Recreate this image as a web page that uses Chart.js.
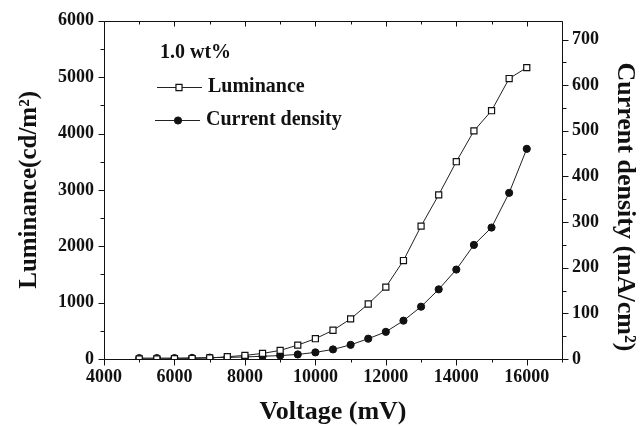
<!DOCTYPE html>
<html>
<head>
<meta charset="utf-8">
<script src="https://cdn.jsdelivr.net/npm/chart.js@4/dist/chart.umd.min.js"></script>
<style>
html,body{margin:0;padding:0;background:#fff;}
#wrap{width:641px;height:426px;}
</style>
</head>
<body>
<div id="wrap"><canvas id="c" width="641" height="426"></canvas></div>
<script>
const voltage = [5000,5500,6000,6500,7000,7500,8000,8500,9000,9500,10000,10500,11000,11500,12000,12500,13000,13500,14000,14500,15000,15500,16000];
const luminance = [2,3,5,8,18,40,64,99,152,247,360,510,711,976,1276,1747,2358,2912,3500,4047,4405,4976,5170];
const currentDensity = [2,2,2,2.5,3,3.5,4.5,6,7.5,10,14.5,21,31,44.5,59.5,84,114.6,152.6,196,250,288,364,460.5];
const xTickValues = [4000,6000,8000,10000,12000,14000,16000];
const yTickValues = [0,1000,2000,3000,4000,5000,6000];
const y2TickValues = [0,100,200,300,400,500,600,700];
const legendTitle = '1.0 wt%';
const seriesNames = ['Luminance','Current density'];
const xTitle = 'Voltage (mV)';
const yTitle = 'Luminance(cd/m\u00B2)';
const y2Title = 'Current density (mA/cm\u00B2)';

const FONT = '"Liberation Serif", "Times New Roman", serif';
const INK = '#111';

const lumPts = voltage.map((v,i)=>({x:v,y:luminance[i]}));
const curPts = voltage.map((v,i)=>({x:v,y:currentDensity[i]}));

const setTicks = vals => (s)=>{ s.ticks = vals.map(v=>({value:v})); };
const plain = v => String(v);

const decor = {
  id:'decor',
  afterDraw(chart){
    const ctx = chart.ctx;
    const a = chart.chartArea;
    const sx = chart.scales.x, sy = chart.scales.y, sy2 = chart.scales.y2;
    ctx.save();
    ctx.strokeStyle = INK;
    ctx.lineWidth = 1;
    const L = Math.round(a.left)+0.5, R = Math.round(a.right)+0.5, T = Math.round(a.top)+0.5, B = Math.round(a.bottom)+0.5;
    ctx.beginPath();
    ctx.rect(L, T, R-L, B-T);
    ctx.stroke();
    ctx.beginPath();
    for(let v=4000; v<=17000; v+=1000){
      const px = Math.round(sx.getPixelForValue(v))+0.5;
      const major = (v % 2000 === 0);
      ctx.moveTo(px, B); ctx.lineTo(px, B + (major?6:3));
      ctx.moveTo(px, T); ctx.lineTo(px, T + (major?5:3));
    }
    for(let v=0; v<=6000; v+=500){
      const py = Math.round(sy.getPixelForValue(v))+0.5;
      const major = (v % 1000 === 0);
      ctx.moveTo(L, py); ctx.lineTo(L - (major?6:4), py);
    }
    for(let v=0; v<=740; v+=50){
      const py = Math.round(sy2.getPixelForValue(v))+0.5;
      const major = (v % 100 === 0);
      ctx.moveTo(R, py); ctx.lineTo(R + (major?6:4), py);
    }
    ctx.stroke();

    // right-axis title, drawn centred a little below the plot middle as in the reference
    ctx.save();
    ctx.fillStyle = INK;
    ctx.font = 'bold 26px ' + FONT;
    ctx.textAlign = 'center';
    ctx.textBaseline = 'middle';
    ctx.translate(625, (a.top + a.bottom)/2 + 17);
    ctx.rotate(Math.PI/2);
    ctx.fillText(y2Title, 0, 0);
    ctx.restore();

    const ds = chart.data.datasets;
    ctx.fillStyle = INK;
    ctx.font = 'bold 20px ' + FONT;
    ctx.textBaseline = 'middle';
    ctx.textAlign = 'left';
    ctx.fillText(legendTitle, 160, 53);
    const rows = [{y:87, x0:157, x1:202, mx:179, tx:208},{y:120, x0:155, x1:200, mx:178, tx:206}];
    rows.forEach((r,i)=>{
      const d = ds[i];
      ctx.strokeStyle = d.borderColor;
      ctx.lineWidth = d.borderWidth;
      ctx.beginPath();
      ctx.moveTo(r.x0, r.y+0.5); ctx.lineTo(r.x1, r.y+0.5);
      ctx.stroke();
      ctx.lineWidth = d.pointBorderWidth;
      ctx.strokeStyle = d.pointBorderColor;
      ctx.fillStyle = d.pointBackgroundColor;
      ctx.beginPath();
      if(d.pointStyle === 'rect'){
        const s = Math.SQRT1_2 * d.pointRadius;
        ctx.rect(r.mx - s, r.y + 0.5 - s, 2*s, 2*s);
      } else {
        ctx.arc(r.mx, r.y+0.5, d.pointRadius, 0, Math.PI*2);
      }
      ctx.fill(); ctx.stroke();
      ctx.fillStyle = INK;
      ctx.fillText(seriesNames[i], r.tx, r.y);
    });
    ctx.restore();
  }
};

new Chart(document.getElementById('c'), {
  type:'line',
  data:{
    datasets:[
      {label:seriesNames[0], data:lumPts, yAxisID:'y', borderColor:'#222', borderWidth:1,
       pointStyle:'rect', pointRadius:4.3, pointBorderWidth:1.2, pointBorderColor:INK, pointBackgroundColor:'#fff', tension:0},
      {label:seriesNames[1], data:curPts, yAxisID:'y2', borderColor:'#222', borderWidth:1,
       pointStyle:'circle', pointRadius:3.6, pointBorderWidth:1, pointBorderColor:INK, pointBackgroundColor:INK, tension:0}
    ]
  },
  options:{
    responsive:false,
    animation:false,
    devicePixelRatio:1,
    layout:{padding:{top:19,left:0,right:0,bottom:0}},
    plugins:{legend:{display:false}, tooltip:{enabled:false}},
    scales:{
      x:{type:'linear', position:'bottom', min:4000, max:17000,
         afterBuildTicks:setTicks(xTickValues),
         afterFit(s){ s.height = 67; },
         ticks:{callback:plain, color:INK, padding:8, maxRotation:0, minRotation:0, autoSkip:false,
                font:{family:FONT, size:18, weight:'bold'}},
         grid:{display:true, drawOnChartArea:false, drawTicks:false},
         border:{display:false},
         title:{display:true, text:xTitle, color:INK, padding:{top:0,bottom:1},
                font:{family:FONT, size:26, weight:'bold', lineHeight:1}}},
      y:{type:'linear', position:'left', min:0, max:6000,
         afterBuildTicks:setTicks(yTickValues),
         afterFit(s){ s.width = 104; },
         ticks:{callback:plain, color:INK, padding:10, autoSkip:false,
                font:{family:FONT, size:18, weight:'bold'}},
         grid:{display:true, drawOnChartArea:false, drawTicks:false},
         border:{display:false},
         title:{display:true, text:yTitle, color:INK, padding:{top:17,bottom:0},
                font:{family:FONT, size:25, weight:'bold', lineHeight:1}}},
      y2:{type:'linear', position:'right', min:0, max:741,
         afterBuildTicks:setTicks(y2TickValues),
         afterFit(s){ s.width = 79; },
         ticks:{callback:plain, color:INK, padding:10, autoSkip:false,
                font:{family:FONT, size:18, weight:'bold'}},
         grid:{display:true, drawOnChartArea:false, drawTicks:false},
         border:{display:false},
         title:{display:false}}
    }
  },
  plugins:[decor]
});
</script>
</body>
</html>
